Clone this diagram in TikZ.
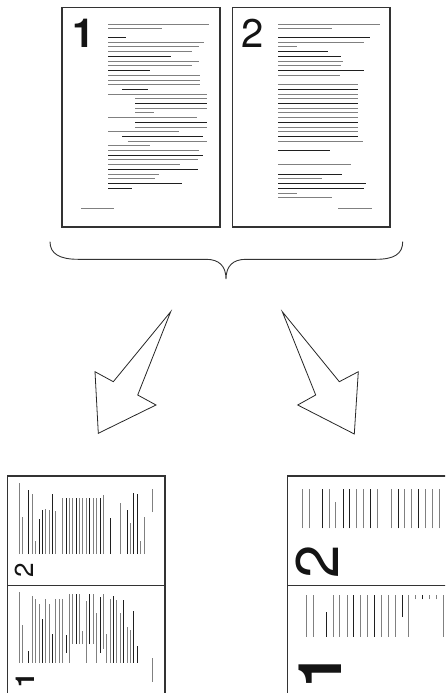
\documentclass[tikz,border=0pt]{standalone}
\usepackage{fontspec}
\setmainfont{TeX Gyre Heros}
\tikzset{
  pageframe/.style={draw=black!80, line width=1.2pt},
  txtg/.style={draw=black!50},
  txtk/.style={draw=black!88},
  bigarrow/.style={draw=black!85, line width=0.8pt, line join=miter},
  bracestyle/.style={draw=black!80, line width=0.9pt},
  digit/.style={inner sep=0pt, text=black!92},
}
\def\pageA{72/160/462/g, 86/160/320/g, 112/160/212/k, 126/160/447/g, 140/160/433/g, 155/160/410/g, 169/160/348/k, 183/160/433/g, 197/160/410/g, 211/160/284/k, 225/160/435/g, 240/160/435/g, 254/160/435/g, 268/202/278/k, 282/160/455/g, 296/240/455/g, 310/240/455/k, 324/240/455/g, 338/240/296/g, 352/160/425/g, 367/240/455/k, 381/240/455/g, 395/160/372/g, 409/202/443/k, 423/218/455/g, 437/160/284/g, 451/160/433/g, 465/160/445/k, 479/160/430/g, 493/160/375/g, 508/160/430/k, 522/160/313/g, 536/160/300/g, 550/160/380/k, 565/160/232/k, 626/78/178/g}
\def\pageB{72/160/465/g, 86/160/320/g, 112/160/435/k, 126/160/417/g, 140/160/217/g, 155/160/308/k, 169/160/348/k, 183/160/355/g, 197/160/348/g, 211/160/417/k, 225/160/345/g, 254/160/400/g, 268/160/400/k, 282/160/400/g, 296/160/400/g, 310/160/400/k, 324/160/400/g, 338/160/400/g, 352/160/400/g, 367/160/400/k, 381/160/400/g, 395/160/400/g, 409/160/400/k, 423/160/413/g, 451/160/315/k, 493/160/378/g, 522/160/350/k, 536/160/292/g, 550/160/423/k, 565/160/417/k, 579/160/215/g, 593/160/320/g, 626/340/440/g}
\newcommand\drawtextlines[1]{\foreach \yy/\aa/\bb/\cc in #1 {\draw[txt\cc] (\aa,\yy) -- (\bb,\yy);}}
\begin{document}
\begin{tikzpicture}[x=1pt,y=-1pt]
\useasboundingbox (0,0) rectangle (445,693);
\clip (0,0) rectangle (445,693);
% top pages
\draw[pageframe] (62,7.3) rectangle (220,227);
\draw[pageframe] (232.3,7.3) rectangle (390,227);
\begin{scope}[shift={(55,0)},scale=1/3,line width=0.9pt]
  \drawtextlines{\pageA}
\end{scope}
\begin{scope}[shift={(225,0)},scale=1/3,line width=0.9pt]
  \drawtextlines{\pageB}
\end{scope}
\node[digit,font=\fontsize{40}{40}\selectfont\bfseries] (d1) at (83.4,33.6) {1};
\node[digit,font=\fontsize{40}{40}\selectfont] (d2) at (252.8,32.9) {2};
% brace
\draw[bracestyle] (50,241.7) .. controls (50,254) and (60,259.3) .. (78,259.3) -- (206,259.3)
  .. controls (219,259.3) and (226,266) .. (226,279)
  .. controls (226,266) and (233,259.3) .. (246,259.3) -- (376,259.3)
  .. controls (394,259.3) and (402.7,254) .. (402.7,241.7);
% arrows
\draw[bigarrow] (170.7,311.7) -- (113.3,381.7) -- (95,371.7) -- (98.3,433.3) -- (156,405) -- (137.7,395) -- cycle;
\draw[bigarrow] (282.3,311.7) -- (339.3,381.7) -- (358.3,371.7) -- (354.3,434) -- (297.7,405) -- (315.7,395) -- cycle;
% bottom left page
\draw[pageframe] (7.3,476) rectangle (165,700);
\draw[pageframe] (7.3,585.7) -- (165,585.7);
\begin{scope}[shift={(1.72,591.33)},rotate=90,xscale=0.2333,yscale=0.24,line width=0.7pt]
  \drawtextlines{\pageB}
\end{scope}
\begin{scope}[shift={(1.72,700)},rotate=90,xscale=0.2333,yscale=0.24,line width=0.7pt]
  \drawtextlines{\pageA}
\end{scope}
\node[digit,rotate=90,font=\fontsize{26}{26}\selectfont] (d2a) at (24.2,570) {2};
\node[digit,rotate=90,font=\fontsize{26}{26}\selectfont\bfseries] (d1a) at (25.5,680.3) {1};
% bottom right page
\draw[pageframe] (450,476) -- (287.3,476) -- (287.3,700);
\draw[pageframe] (287.3,585.7) -- (450,585.7);
\begin{scope}
  \clip (288,489.3) rectangle (445,585);
  \begin{scope}[shift={(267.63,603)},rotate=90,xscale=0.4667,yscale=0.4867,line width=0.8pt]
    \drawtextlines{\pageB}
  \end{scope}
\end{scope}
\begin{scope}
  \clip (288,595) rectangle (445,693);
  \begin{scope}[shift={(271.63,711.33)},rotate=90,xscale=0.4667,yscale=0.4867,line width=0.8pt]
    \drawtextlines{\pageA}
  \end{scope}
\end{scope}
\node[digit,rotate=90,font=\fontsize{60}{60}\selectfont] (d2b) at (317.2,561.7) {2};
\node[digit,rotate=90,font=\fontsize{60}{60}\selectfont\bfseries] (d1b) at (320.5,671) {1};
\end{tikzpicture}
\end{document}
